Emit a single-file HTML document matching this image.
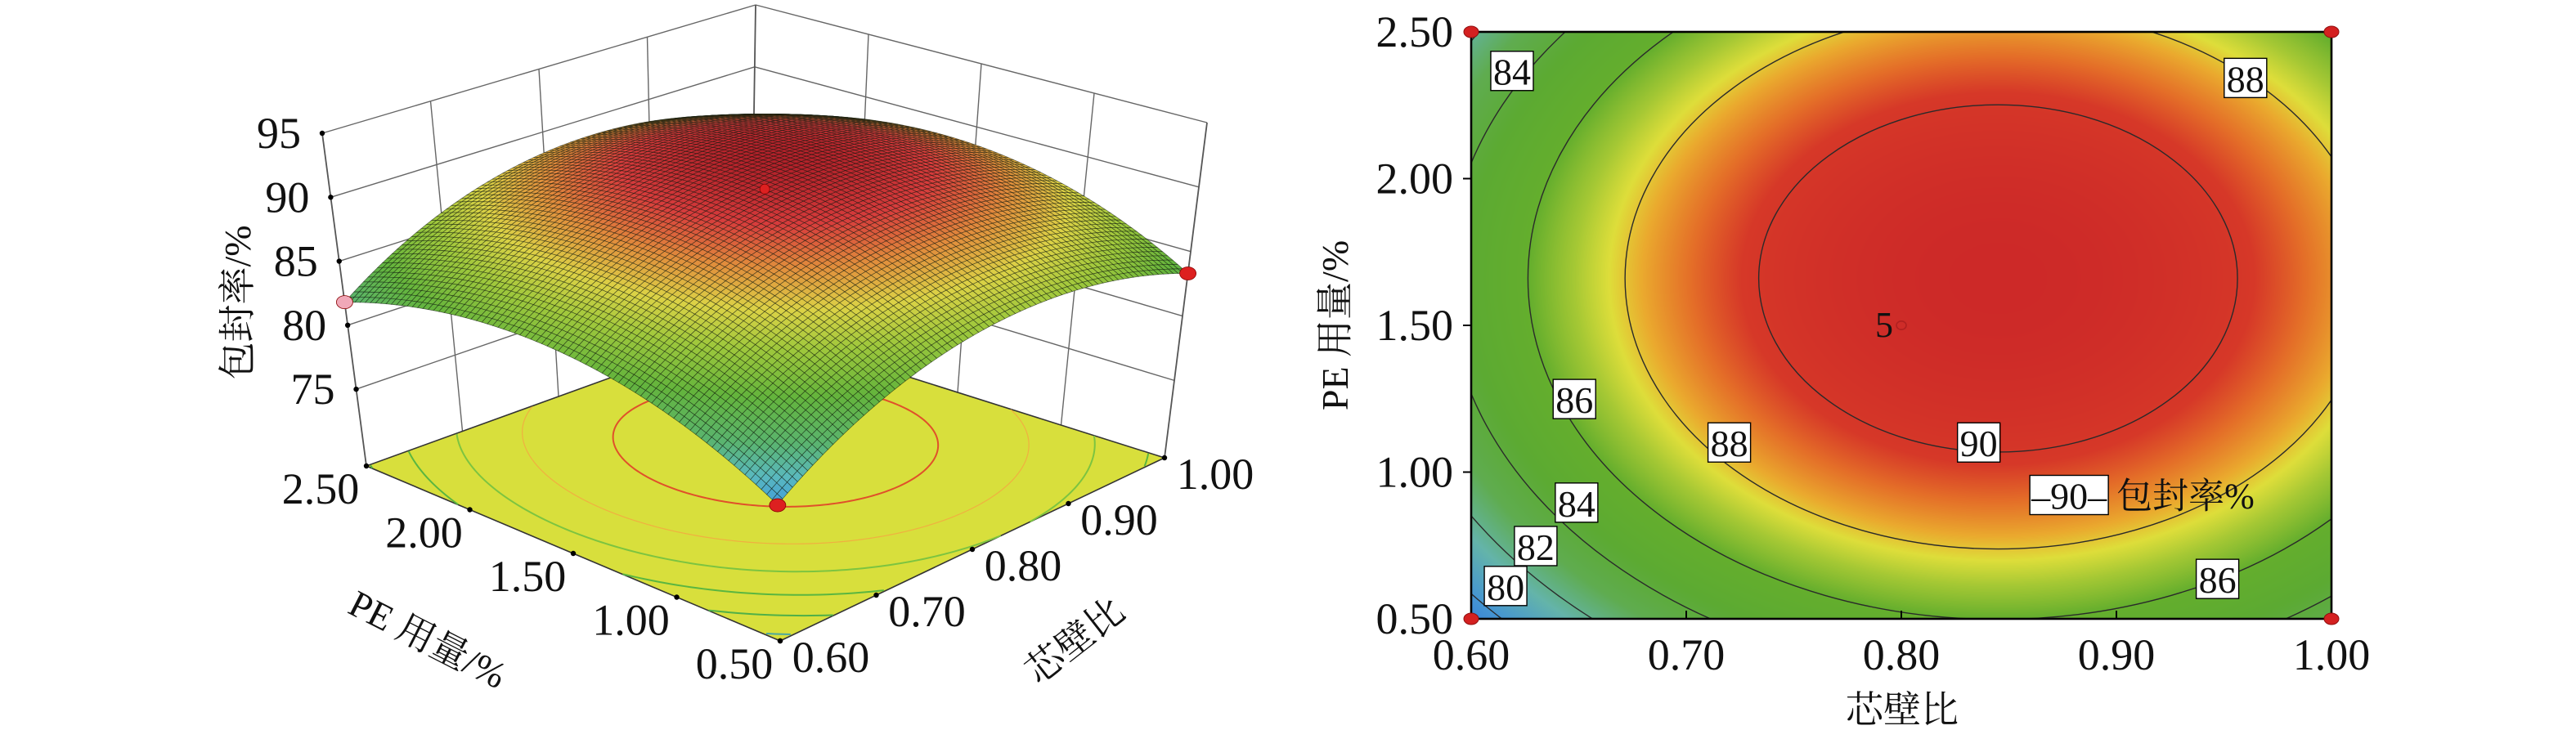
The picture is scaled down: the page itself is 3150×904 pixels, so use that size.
<!DOCTYPE html>
<html><head><meta charset="utf-8">
<style>
html,body{margin:0;padding:0;background:#fff;}
#wrap{position:relative;width:3150px;height:904px;overflow:hidden;background:#fff;}
#heat{position:absolute;left:1799px;top:39px;width:1052px;height:718px;}
#svg{position:absolute;left:0;top:0;}
text{font-family:"Liberation Serif","Noto Serif CJK SC","Noto Sans CJK SC",serif;fill:#111;}
</style></head>
<body>
<div id="wrap">
<canvas id="heat" width="1052" height="718"></canvas>
<svg id="svg" width="3150" height="904" viewBox="0 0 1575 452" xmlns="http://www.w3.org/2000/svg">
  <defs><clipPath id="plotclip"><rect x="899.5" y="19.5" width="526" height="359"/></clipPath></defs>
  <g id="g3d"></g>
  <g id="g2d"></g>
</svg>
</div>
<script>
// ---- data ----
const ratioTicks = [0.60, 0.70, 0.80, 0.90, 1.00];
const peTicks = [0.50, 1.00, 1.50, 2.00, 2.50];
const zTicks = [75, 80, 85, 90, 95];
const designRatio = [0.6, 1.0, 0.6, 0.8];
const designPE = [0.5, 0.5, 2.5, 1.5];
const designResp = [79.2, 83.3, 81.8, 91.1];
const modelCenter = [0.845, 1.66];
const modelCoef = [91.4, 113, 4.0]; // max, ratio curvature, PE curvature
const contourLevels = [80, 82, 84, 86, 88, 90];
const labelLevels = [84, 88, 86, 88, 90, 84, 82, 80, 86];
const labelRatio = [0.619, 0.960, 0.648, 0.720, 0.836, 0.649, 0.630, 0.616, 0.947];
const labelPE = [2.367, 2.343, 1.249, 1.101, 1.101, 0.896, 0.748, 0.612, 0.636];

const NS = "http://www.w3.org/2000/svg";
function mk(tag, attrs, parent, txt){const e=document.createElementNS(NS,tag);for(const k in attrs)e.setAttribute(k,attrs[k]);if(txt!==undefined)e.textContent=txt;parent.appendChild(e);return e;}
function model(r,p){return modelCoef[0]-modelCoef[1]*(r-modelCenter[0])**2-modelCoef[2]*(p-modelCenter[1])**2;}
function lerpStops(stops,z){
  if(z<=stops[0][0])return stops[0][1];
  for(let i=1;i<stops.length;i++){if(z<=stops[i][0]){const a=stops[i-1],b=stops[i];const t=(z-a[0])/(b[0]-a[0]);return [0,1,2].map(k=>a[1][k]+(b[1][k]-a[1][k])*t);}}
  return stops[stops.length-1][1];
}
const stops2d=[[78,[40,110,220]],[80,[70,150,210]],[81.5,[100,180,170]],[83,[95,172,80]],[84.5,[92,170,50]],[86,[100,174,45]],[87,[165,200,52]],[87.7,[222,222,58]],[88.3,[234,170,46]],[89.1,[228,110,40]],[89.8,[214,56,40]],[91.5,[204,40,40]]];
const stops3d=[[79,[60,150,225]],[80.5,[90,185,190]],[82,[90,180,110]],[84,[100,180,60]],[86,[160,200,60]],[87.5,[220,210,70]],[89,[225,140,60]],[90.3,[215,60,60]],[91.5,[175,30,40]]];

// ---- 2D contour plot ----
const X0=899.5,X1=1425.5,Y0=19.5,Y1=378.5;
function sx(r){return X0+(r-0.6)/0.4*(X1-X0);}
function sy(p){return Y1-(p-0.5)/2*(Y1-Y0);}
(function(){
  const cv=document.getElementById('heat');const ctx=cv.getContext('2d');
  const W=cv.width,H=cv.height;const img=ctx.createImageData(W,H);
  for(let j=0;j<H;j++){const p=2.5-2*j/(H-1);for(let i=0;i<W;i++){const r=0.6+0.4*i/(W-1);const c=lerpStops(stops2d,model(r,p));const o=(j*W+i)*4;img.data[o]=c[0];img.data[o+1]=c[1];img.data[o+2]=c[2];img.data[o+3]=255;}}
  ctx.putImageData(img,0,0);
})();
const g2=document.getElementById('g2d');
const cl=mk('g',{'clip-path':'url(#plotclip)'},g2);


contourLevels.forEach(L=>{
  const d=modelCoef[0]-L;
  const e=mk('ellipse',{cx:sx(modelCenter[0]),cy:sy(modelCenter[1]),rx:Math.sqrt(d/modelCoef[1])/0.4*(X1-X0),ry:Math.sqrt(d/modelCoef[2])/2*(Y1-Y0),fill:'none',stroke:'#2a2a2a','stroke-width':0.7},cl);
  
  
});
const cc=mk('ellipse',{cx:sx(0.8),cy:sy(1.5),rx:3,ry:2.6,fill:'none',stroke:'#b02020','stroke-width':0.8},g2);


const ct=mk('text',{x:sx(0.8)-5,y:sy(1.5)+7,'font-size':22,'text-anchor':'end'},g2,'5');


const fr=mk('rect',{x:X0,y:Y0,width:X1-X0,height:Y1-Y0,fill:'none',stroke:'#000','stroke-width':1.3},g2);


labelLevels.forEach((L,i)=>{
  const x=sx(labelRatio[i]),y=sy(labelPE[i]);
  const g=mk('g',{},g2);
  
  
  mk('rect',{x:x-13,y:y-12,width:26,height:24,fill:'#fff',stroke:'#000','stroke-width':0.7},g);
  mk('text',{x:x,y:y+8.5,'font-size':23,'text-anchor':'middle'},g,String(L));
});
(function(){
  const x=sx(0.878),y=sy(0.922);
  const g=mk('g',{},g2);
  
  
  mk('rect',{x:x-24,y:y-12,width:48,height:24,fill:'#fff',stroke:'#000','stroke-width':0.7},g);
  mk('text',{x:x,y:y+8.5,'font-size':23,'text-anchor':'middle'},g,'–90–');
  mk('text',{x:x+29,y:y+8,'font-size':22},g,'包封率%');
})();
[[0.6,0.5],[1.0,0.5],[0.6,2.5],[1.0,2.5]].forEach((pt,i)=>{
  const e=mk('ellipse',{cx:sx(pt[0]),cy:sy(pt[1]),rx:4.5,ry:3.5,fill:'#d42020',stroke:'#901010','stroke-width':0.5},g2);
  
  
});
ratioTicks.forEach(r=>{
  if(r>0.6&&r<1.0){const t=mk('line',{x1:sx(r),x2:sx(r),y1:Y1,y2:Y1-5,stroke:'#000','stroke-width':1},g2);}
  const t=mk('text',{x:sx(r),y:Y1+31,'font-size':27,'text-anchor':'middle'},g2,r.toFixed(2));
  
  
});
peTicks.forEach(p=>{
  if(p>0.5&&p<2.5){const t=mk('line',{x1:X0,x2:X0-5,y1:sy(p),y2:sy(p),stroke:'#000','stroke-width':1},g2);}
  const t=mk('text',{x:X0-11,y:sy(p)+9,'font-size':27,'text-anchor':'end'},g2,p.toFixed(2));
  
  
});
const xt=mk('text',{x:1163,y:442,'font-size':23,'text-anchor':'middle'},g2,'芯壁比');


const yt=mk('text',{x:0,y:0,'font-size':23,'text-anchor':'middle',transform:'translate(824,199) rotate(-90)'},g2,'PE 用量/%');



// ---- 3D surface ----
const ZMIN=69,ZMAX=95;
const F=[[477,392],[712,280],[224,285],[459,200]];
const V=[[-4,-211.5],[26,-205],[-27,-203.5],[3,-197]];
function bil(A,u,v){const w=[(1-u)*(1-v),u*(1-v),(1-u)*v,u*v];return [0,1].map(k=>A[0][k]*w[0]+A[1][k]*w[1]+A[2][k]*w[2]+A[3][k]*w[3]);}
function P(u,v,z){const f=bil(F,u,v),d=bil(V,u,v),w=(z-ZMIN)/(ZMAX-ZMIN);return [f[0]+w*d[0],f[1]+w*d[1]];}
function ur(r){return (r-0.6)/0.4;} function vp(p){return (p-0.5)/2;}
const g3=document.getElementById('g3d');
function line3(a,b,attrs,name){const p=P(...a),q=P(...b);const l=mk('line',Object.assign({x1:p[0],y1:p[1],x2:q[0],y2:q[1],stroke:'#666','stroke-width':0.7},attrs||{}),g3);return l;}
zTicks.forEach(z=>{line3([0,1,z],[1,1,z],{},'left-wall-gridline');line3([1,1,z],[1,0,z],{},'right-wall-gridline');});
[0.25,0.5,0.75].forEach(t=>{line3([t,1,ZMIN],[t,1,ZMAX],{},'left-wall-gridline');line3([1,t,ZMIN],[1,t,ZMAX],{},'right-wall-gridline');});
line3([0,1,ZMIN],[0,1,ZMAX],{stroke:'#555','stroke-width':0.9},'z-axis-line');
line3([1,1,ZMIN],[1,1,ZMAX],{stroke:'#555','stroke-width':0.9},'back-axis-line');
line3([1,0,ZMIN],[1,0,ZMAX],{stroke:'#555','stroke-width':0.9},'right-axis-line');
(function(){
  const pts=[P(0,0,ZMIN),P(1,0,ZMIN),P(1,1,ZMIN),P(0,1,ZMIN)].map(p=>p.join(',')).join(' ');
  const fl=mk('polygon',{points:pts,fill:'#d8df3c',stroke:'#333','stroke-width':0.8},g3);
  
  
  const fcol={80:'#4aa8a0',82:'#4fb048',84:'#5ab640',86:'#7cc440',88:'#f0b040',90:'#e0502a'};
  contourLevels.forEach(L=>{
    const d=modelCoef[0]-L,rr=Math.sqrt(d/modelCoef[1]),rp=Math.sqrt(d/modelCoef[2]);
    let seg=[];const segs=[];
    for(let k=0;k<=360;k++){const t=k/360*2*Math.PI;const u=ur(modelCenter[0]+rr*Math.cos(t)),v=vp(modelCenter[1]+rp*Math.sin(t));
      if(u>=0&&u<=1&&v>=0&&v<=1){seg.push(P(u,v,ZMIN));}else{if(seg.length>1)segs.push(seg);seg=[];}}
    if(seg.length>1)segs.push(seg);
    segs.forEach(s=>{const pl=mk('polyline',{points:s.map(p=>p.join(',')).join(' '),fill:'none',stroke:fcol[L],'stroke-width':L==88?0.6:1},g3);
      
      });
  });
})();
(function(){
  const N=80;const quads=[];
  for(let i=0;i<N;i++)for(let j=0;j<N;j++){quads.push([i,j]);}
  quads.sort((a,b)=>(b[0]+b[1])-(a[0]+a[1]));
  const sg=mk('g',{stroke:'rgba(10,20,10,0.62)','stroke-width':0.33},g3);
  
  
  let html='';
  quads.forEach(([i,j])=>{
    const u0=i/N,u1=(i+1)/N,v0=j/N,v1=(j+1)/N;
    const z=(a,b)=>model(0.6+0.4*a,0.5+2*b);
    const c=lerpStops(stops3d,z((u0+u1)/2,(v0+v1)/2));
    const pts=[P(u0,v0,z(u0,v0)),P(u1,v0,z(u1,v0)),P(u1,v1,z(u1,v1)),P(u0,v1,z(u0,v1))].map(p=>p[0].toFixed(2)+','+p[1].toFixed(2)).join(' ');
    html+='<polygon points="'+pts+'" fill="rgb('+c.map(Math.round).join(',')+')"/>';
  });
  sg.innerHTML=html;
})();
designRatio.forEach((r,i)=>{
  const p=P(ur(r),vp(designPE[i]),designResp[i]);
  const e=mk('ellipse',{cx:p[0],cy:p[1],rx:i==3?3:5,ry:i==3?3:4,fill:i==2?'#f0a8b8':'#dd2020',stroke:'#800','stroke-width':0.4},g3);
  
  
});
zTicks.forEach(z=>{
  const p=P(0,1,z);
  const d=mk('circle',{cx:p[0],cy:p[1],r:1.6,fill:'#000'},g3);
  
  
  const t=mk('text',{x:p[0]-13,y:p[1]+9,'font-size':27,'text-anchor':'end'},g3,String(z));
  
  
});
peTicks.forEach(pe=>{
  const p=P(0,vp(pe),ZMIN);
  const d=mk('circle',{cx:p[0],cy:p[1],r:1.6,fill:'#000'},g3);
  
  
  const t=mk('text',{x:p[0]-28,y:p[1]+23,'font-size':27,'text-anchor':'middle'},g3,pe.toFixed(2));
  
  
});
ratioTicks.forEach(r=>{
  const p=P(ur(r),0,ZMIN);
  const d=mk('circle',{cx:p[0],cy:p[1],r:1.6,fill:'#000'},g3);
  
  
  const t=mk('text',{x:p[0]+31,y:p[1]+19,'font-size':27,'text-anchor':'middle'},g3,r.toFixed(2));
  
  
});
const t1=mk('text',{x:0,y:0,'font-size':23,'text-anchor':'middle',transform:'translate(258,398) rotate(27)'},g3,'PE 用量/%');


const t2=mk('text',{x:0,y:0,'font-size':23,'text-anchor':'middle',transform:'translate(662,398) rotate(-38)'},g3,'芯壁比');


const t3=mk('text',{x:0,y:0,'font-size':23,'text-anchor':'middle',transform:'translate(153,185) rotate(-90)'},g3,'包封率/%');


</script>
</body></html>
